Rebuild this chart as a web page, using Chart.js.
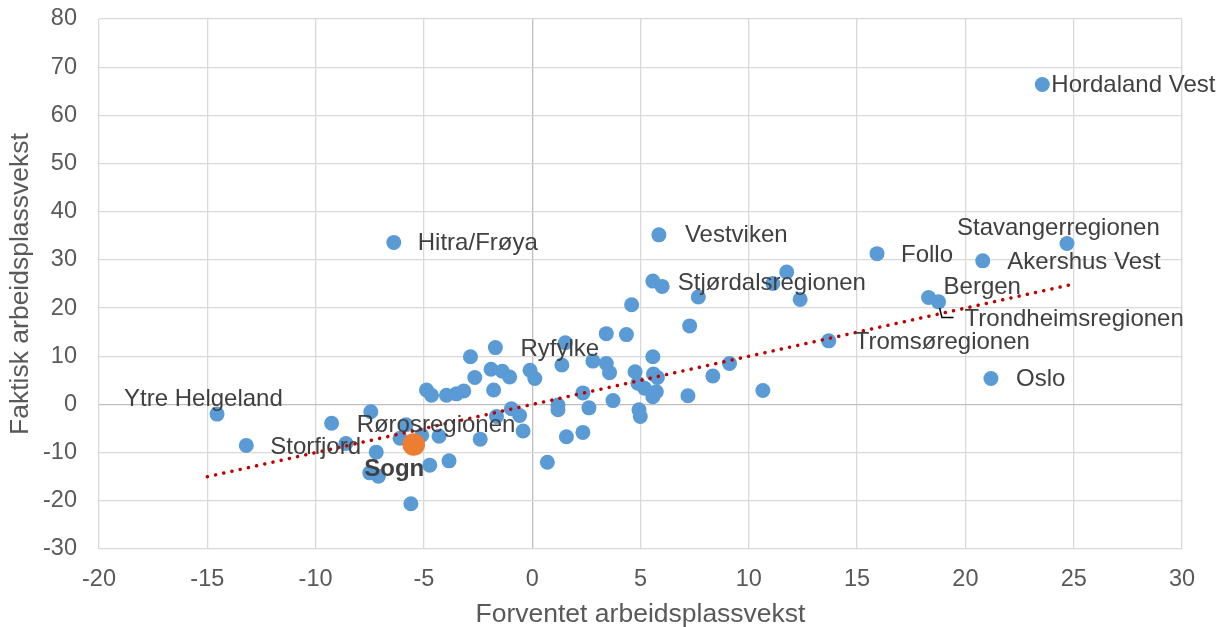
<!DOCTYPE html>
<html lang="no">
<head>
<meta charset="UTF-8">
<script src="https://cdn.jsdelivr.net/npm/chart.js@4.4.1/dist/chart.umd.min.js"></script>
<style>
  html, body { margin: 0; padding: 0; background: #fff; }
  #wrap { width: 1223px; height: 627px; position: relative; }
</style>
</head>
<body>
<div id="wrap"><canvas id="myChart"></canvas></div>
<script>
// Regioner (tom streng = ingen etikett)
const regions = [
  'Ytre Helgeland', 'Storfjord', 'Rørosregionen', '', '', '', '', '', 'Hitra/Frøya', '',
  '', '', '', '', '', '', '', '', '', '',
  '', '', '', '', 'Ryfylke', '', '', '', '', '',
  '', '', '', '', '', '', '', '', '', '',
  '', '', '', '', '', '', '', '', '', '',
  '', '', '', '', '', 'Stjørdalsregionen', '', 'Vestviken', '', '',
  '', '', '', '', '', '', '', '', '', '',
  '', '', '', 'Tromsøregionen', 'Follo', 'Bergen', 'Trondheimsregionen', 'Akershus Vest', 'Oslo', 'Hordaland Vest',
  'Stavangerregionen'
];

// Forventet arbeidsplassvekst (x)
const expected = [
  -14.55, -13.2, -9.26, -8.6, -7.45, -7.2, -7.5, -7.1, -6.39, -6.1,
  -5.83, -5.1, -5.6, -4.88, -4.65, -4.73, -4.3, -3.96, -3.84, -3.5,
  -3.16, -2.85, -2.65, -2.4, -1.7, -1.9, -1.78, -1.65, -1.38, -1.04,
  -0.96, -0.58, -0.42, -0.1, 0.12, 0.7, 1.19, 1.19, 1.37, 1.53,
  1.58, 2.34, 2.34, 2.62, 2.8, 3.42, 3.57, 3.42, 3.73, 4.35,
  4.59, 4.75, 4.88, 5.19, 4.93, 5.57, 4.99, 5.85, 6.0, 5.57,
  5.6, 5.78, 5.73, 5.57, 7.19, 7.27, 7.67, 8.34, 9.11, 10.65,
  11.11, 11.75, 12.37, 13.69, 15.92, 18.3, 18.76, 20.8, 21.18, 23.55,
  24.69
];

// Faktisk arbeidsplassvekst (y)
const actual = [
  -2.0, -8.5, -3.9, -8.1, -1.5, -9.9, -14.2, -14.9, 33.6, -7.0,
  -4.2, -6.4, -20.6, 3.0, 1.9, -12.6, -6.6, 1.9, -11.7, 2.2,
  2.8, 9.9, 5.6, -7.2, 11.8, 7.3, 3.0, -2.5, 6.9, 5.7,
  -0.9, -2.3, -5.5, 7.1, 5.4, -12.0, -0.1, -1.1, 8.2, 12.8,
  -6.7, 2.4, -5.8, -0.7, 9.0, 8.5, 6.6, 14.7, 0.8, 14.5,
  20.7, 6.8, 4.4, 3.35, -1.1, 25.6, -2.5, 35.2, 24.5, 9.9,
  6.3, 5.6, 2.65, 1.6, 1.8, 16.3, 22.3, 5.9, 8.5, 2.9,
  25.1, 27.5, 21.8, 13.2, 31.3, 22.2, 21.3, 29.8, 5.4, 66.4,
  33.4
];

// Uthevet region
const sognName = ['Sogn'];
const sognX = [-5.47];
const sognY = [-8.3];

// Trendlinje (endepunkter)
const trendX = [-15, 25];
const trendY = [-15, 25];

// Etikettplassering i piksler relativt til punktet
const LABEL_POS = {
  'Ytre Helgeland': { dx: -93, dy: -14.5 },
  'Storfjord': { dx: 24, dy: 2 },
  'Rørosregionen': { dx: 25, dy: 2 },
  'Hitra/Frøya': { dx: 24, dy: 1 },
  'Ryfylke': { dx: 25, dy: 2 },
  'Stjørdalsregionen': { dx: 25, dy: 2 },
  'Vestviken': { dx: 26, dy: 1 },
  'Tromsøregionen': { dx: 26, dy: 2 },
  'Follo': { dx: 24, dy: 2 },
  'Bergen': { dx: 15, dy: -10 },
  'Trondheimsregionen': { dx: 26, dy: 17.6, leader: true },
  'Akershus Vest': { dx: 24.6, dy: 2 },
  'Oslo': { dx: 25, dy: 1 },
  'Hordaland Vest': { dx: 9, dy: 1 },
  'Stavangerregionen': { dx: -110, dy: -15 },
  'Sogn': { dx: -49.5, dy: 24.5 }
};

const FONT = 'Liberation Sans, Arial, sans-serif';

const toPoints = (xs, ys) => xs.map((x, i) => ({ x: x, y: ys[i] }));

// Tegner dataetiketter
const labelPlugin = {
  id: 'pointLabels',
  afterDatasetsDraw(chart) {
    const ctx = chart.ctx;
    ctx.save();
    ctx.textBaseline = 'middle';
    ctx.textAlign = 'left';
    chart.data.datasets.forEach((ds, di) => {
      if (!ds.names) return;
      const meta = chart.getDatasetMeta(di);
      meta.data.forEach((pt, i) => {
        const name = ds.names[i];
        if (!name) return;
        const pos = LABEL_POS[name] || { dx: 24, dy: 2 };
        if (pos.leader) {
          ctx.strokeStyle = '#000000';
          ctx.lineWidth = 1.5;
          ctx.beginPath();
          ctx.moveTo(pt.x + 1, pt.y + 6);
          ctx.lineTo(pt.x + 3.4, pt.y + 15.6);
          ctx.lineTo(pt.x + 15, pt.y + 15.6);
          ctx.stroke();
        }
        ctx.font = (ds.boldLabel ? 'bold ' : '') + '24px ' + FONT;
        ctx.fillStyle = '#404040';
        ctx.fillText(name, pt.x + pos.dx, pt.y + pos.dy);
      });
    });
    ctx.restore();
  }
};

const gridColor = c => (c.tick && c.tick.value === 0 ? '#BFBFBF' : '#D9D9D9');

new Chart(document.getElementById('myChart'), {
  type: 'scatter',
  data: {
    datasets: [
      {
        type: 'line',
        data: toPoints(trendX, trendY),
        borderColor: '#C00000',
        borderWidth: 3.5,
        borderDash: [0.1, 8.3],
        borderCapStyle: 'round',
        pointRadius: 0,
        fill: false,
        order: 0
      },
      {
        data: toPoints(sognX, sognY),
        names: sognName,
        boldLabel: true,
        backgroundColor: '#ED7D31',
        borderColor: '#ED7D31',
        borderWidth: 0,
        pointRadius: 11.3,
        order: 1
      },
      {
        data: toPoints(expected, actual),
        names: regions,
        backgroundColor: '#5B9BD5',
        borderColor: '#5B9BD5',
        borderWidth: 0,
        pointRadius: 7.5,
        order: 2
      }
    ]
  },
  options: {
    responsive: true,
    maintainAspectRatio: false,
    animation: false,
    layout: { padding: { top: 19, right: 41, left: 0, bottom: 0 } },
    plugins: {
      legend: { display: false },
      tooltip: { enabled: false }
    },
    scales: {
      x: {
        type: 'linear',
        min: -20,
        max: 30,
        ticks: {
          stepSize: 5,
          color: '#595959',
          font: { family: FONT, size: 23.5 },
          padding: 16.6,
          maxRotation: 0
        },
        grid: { color: gridColor, lineWidth: 1.3, drawTicks: false },
        border: { display: false },
        title: {
          display: true,
          text: 'Forventet arbeidsplassvekst',
          color: '#595959',
          font: { family: FONT, size: 26.5, lineHeight: 0.9 },
          padding: 0
        },
        afterFit(scale) {
          scale.height = 78;
          scale.paddingLeft = 0;
          scale.paddingRight = 0;
        }
      },
      y: {
        type: 'linear',
        min: -30,
        max: 80,
        ticks: {
          stepSize: 10,
          color: '#595959',
          font: { family: FONT, size: 23.5 },
          padding: 22
        },
        grid: { color: gridColor, lineWidth: 1.3, drawTicks: false },
        border: { display: false },
        title: {
          display: true,
          text: 'Faktisk arbeidsplassvekst',
          color: '#595959',
          font: { family: FONT, size: 26.5, lineHeight: 1 },
          padding: { top: 7.4, bottom: 0 }
        },
        afterFit(scale) {
          scale.width = 99;
          scale.paddingTop = 0;
          scale.paddingBottom = 0;
        }
      }
    }
  },
  plugins: [labelPlugin]
});
</script>
</body>
</html>
